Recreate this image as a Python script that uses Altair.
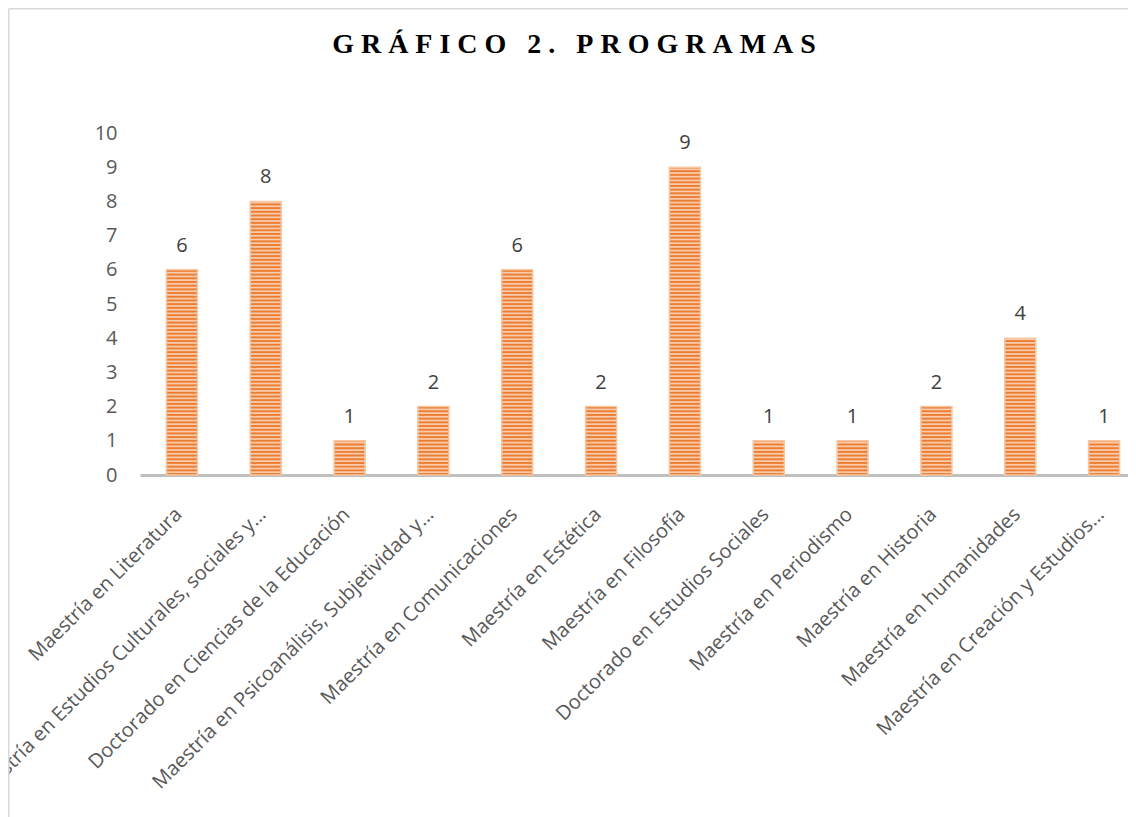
import altair as alt
import pandas as pd

categories = [
    "Maestría en Literatura",
    "Maestría en Estudios Culturales, sociales y…",
    "Doctorado en Ciencias de la Educación",
    "Maestría en Psicoanálisis, Subjetividad y…",
    "Maestría en Comunicaciones",
    "Maestría en Estética",
    "Maestría en Filosofía",
    "Doctorado en Estudios Sociales",
    "Maestría en Periodismo",
    "Maestría en Historia",
    "Maestría en humanidades",
    "Maestría en Creación y Estudios…",
]
values = [6, 8, 1, 2, 6, 2, 9, 1, 1, 2, 4, 1]
y_ticks = list(range(0, 11))
title_words = ["GRÁFICO", "2.", "PROGRAMAS"]

df = pd.DataFrame({"programa": categories, "n": values})

# spaced-out title (letter spacing imitated with non-breaking spaces)
NB = "\u00a0"
spaced_title = (NB * 3).join(NB.join(list(w)) for w in title_words)

LABEL_FONT = "Open Sans"
GRAY = "#595959"

x_scale = alt.Scale(range=[0, 1006], paddingInner=0.63, paddingOuter=0.315)
y_scale = alt.Scale(domain=[0, 10], nice=False)

x_axis = alt.Axis(
    title=None, labelAngle=-45, labelFont=LABEL_FONT, labelFontSize=20,
    labelColor=GRAY, labelLimit=0, domainColor="#BFBFBF", domainWidth=3,
    ticks=False, labelPadding=36, labelAlign="right", labelBaseline="middle",
    labelOffset=-3,
)
y_axis = alt.Axis(
    title=None, values=y_ticks, domain=False, ticks=False, grid=False,
    labelFont=LABEL_FONT, labelFontSize=20, labelColor=GRAY, labelPadding=23,
)

x_enc = alt.X("programa:N", sort=categories, scale=x_scale, axis=x_axis)
y_enc = alt.Y("n:Q", scale=y_scale, axis=y_axis)

base = alt.Chart(df).mark_bar(color="#F8CBAD").encode(x=x_enc, y=y_enc)

stripes = (
    alt.Chart(df)
    .transform_calculate(s="sequence(0, datum.n, 0.108)")
    .transform_flatten(["s"])
    .transform_calculate(s2="min(datum.s + 0.056, datum.n)")
    .mark_bar(color="#ED7D31")
    .encode(
        x=x_enc,
        y=alt.Y("s:Q", scale=y_scale, axis=y_axis),
        y2="s2:Q",
    )
)

outline = alt.Chart(df).mark_bar(
    fillOpacity=0, stroke="#F7C6A3", strokeWidth=1.5
).encode(x=x_enc, y=y_enc)

labels = alt.Chart(df).mark_text(
    dy=-18, font=LABEL_FONT, fontSize=20, color="#404040", baseline="alphabetic"
).encode(x=x_enc, y=y_enc, text="n:Q")

one = alt.Data(values=[{}])

border_top = alt.Chart(one).mark_rule(color="#D9D9D9", strokeWidth=1.5).encode(
    x=alt.value(-131.25), x2=alt.value(3000), y=alt.value(-124.25)
)
border_left = alt.Chart(one).mark_rule(color="#D9D9D9", strokeWidth=1.5).encode(
    x=alt.value(-131.25), y=alt.value(-124.25), y2=alt.value(3000)
)

title = alt.Chart(one).mark_text(
    text=spaced_title, font="Liberation Serif", fontSize=28, fontWeight="bold",
    color="black", align="center", baseline="alphabetic",
).encode(x=alt.value(434), y=alt.value(-80))

chart = (
    alt.layer(border_top, border_left, base, stripes, outline, labels, title)
    .properties(
        width=988, height=342,
        background="white",
        autosize=alt.AutoSizeParams(type="none"),
        padding={"left": 132, "top": 125, "right": 0, "bottom": 342},
    )
    .configure_view(strokeWidth=0, stroke=None)
)

chart.save("out.html", embed_options={"renderer": "svg", "actions": False})
